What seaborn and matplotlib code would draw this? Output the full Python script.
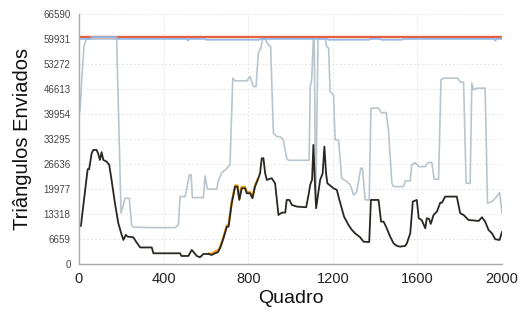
import numpy as np
import pandas as pd
import matplotlib
matplotlib.use("Agg")
import matplotlib.pyplot as plt
import seaborn as sns

# ---- data ----
black_frames = [0, 9, 41, 48, 60, 68, 83, 90, 99, 107, 115, 131, 143, 154, 170, 186, 202, 210,
                221, 230, 257, 270, 289, 344, 352, 478, 484, 517, 533, 540, 557, 572, 588, 612,
                627, 643, 656, 667, 683, 699, 707, 722, 738, 749, 758, 769, 785, 793, 809, 820,
                832, 845, 856, 864, 872, 880, 888, 911, 927, 943, 959, 975, 982, 995, 1006, 1030,
                1074, 1085, 1093, 1102, 1108, 1115, 1121, 1140, 1152, 1160, 1168, 1174, 1203,
                1219, 1231, 1253, 1274, 1290, 1305, 1329, 1345, 1364, 1372, 1380, 1416, 1428,
                1440, 1455, 1471, 1487, 1503, 1518, 1542, 1550, 1566, 1578, 1597, 1606, 1620,
                1637, 1644, 1655, 1663, 1676, 1692, 1708, 1716, 1731, 1786, 1802, 1818, 1841,
                1889, 1905, 1920, 1936, 1952, 1968, 1988, 2000]
black_vals = [10120, 10120, 25230, 25230, 29490, 30370, 30370, 29490, 27700, 29750, 27700, 27250,
              26370, 22380, 16170, 10840, 7730, 6390, 7730, 7280, 7100, 5940, 4400, 4400, 2840,
              2840, 2130, 2130, 3730, 3300, 2130, 1780, 2660, 2660, 2400, 2840, 3100, 4200, 6840,
              9940, 9940, 16170, 20600, 20600, 17050, 20160, 20160, 18830, 18830, 17500, 20600,
              22380, 24160, 28150, 28150, 24160, 22380, 22830, 21490, 13050, 13670, 13670, 17050,
              17050, 15720, 15270, 15100, 18380, 21050, 22500, 31700, 22000, 14830, 22380, 24160,
              31250, 24160, 21490, 20160, 19710, 17050, 12600, 10390, 9060, 8170, 7110, 5940,
              5860, 5860, 17050, 17050, 11270, 11270, 9500, 7280, 5500, 4800, 4620, 4800, 5500,
              8170, 16610, 17050, 12170, 11720, 9500, 12170, 12000, 10660, 13050, 13940, 16340,
              16340, 17940, 17940, 13500, 13050, 11720, 11450, 12440, 11270, 9060, 8170, 6570,
              6390, 8610]

gray_frames = [0, 5, 14, 24, 35, 178, 199, 218, 238, 249, 257, 345, 454, 470, 478, 502, 522, 530,
               536, 588, 596, 607, 651, 659, 675, 691, 714, 727, 738, 793, 809, 824, 837, 848,
               859, 868, 880, 895, 906, 919, 935, 951, 966, 982, 990, 1088, 1093, 1100, 1108,
               1112, 1119, 1130, 1164, 1171, 1180, 1187, 1203, 1211, 1227, 1242, 1266, 1282,
               1298, 1313, 1332, 1340, 1353, 1372, 1380, 1416, 1428, 1452, 1463, 1479, 1487,
               1534, 1542, 1566, 1573, 1589, 1605, 1637, 1649, 1668, 1679, 1700, 1711, 1723,
               1790, 1802, 1818, 1830, 1849, 1857, 1865, 1881, 1920, 1931, 1952, 1968, 1988, 2000]
gray_vals = [39880, 41000, 50000, 58000, 59900, 59900, 13500, 17500, 17500, 10390, 9800, 9680,
             9680, 10390, 17940, 17940, 23710, 23710, 17670, 17670, 23440, 19900, 19900, 22200,
             24320, 25040, 26370, 49470, 48750, 48750, 49900, 47230, 47230, 56130, 57460, 59900,
             59900, 58340, 57900, 34820, 33910, 33910, 33030, 28150, 27600, 27600, 47230, 49000,
             59900, 59900, 15700, 59900, 59900, 57900, 57460, 45900, 45000, 33030, 33030, 22830,
             21930, 21050, 18380, 19260, 25490, 25490, 17050, 17050, 41480, 41480, 40300, 40300,
             35700, 21490, 20600, 20600, 22110, 22110, 26370, 27000, 25920, 25920, 27000, 27000,
             22560, 22560, 49020, 49470, 49470, 48400, 48400, 21490, 21490, 48130, 46350, 46800,
             46800, 16170, 16610, 17500, 19000, 13500]

orange_frames = [612, 627, 643, 656, 667, 683, 699, 707, 722, 738, 749, 758, 769, 785, 793, 809,
                 820, 832, 845]
orange_vals = [2800, 2700, 3300, 3600, 4500, 7200, 10300, 10300, 16500, 20900, 20900, 17400,
               20500, 20500, 19200, 19100, 17800, 20900, 22600]

red_frames = [0, 2000]
red_vals = [60400, 60400]

blue_frames = [0, 55, 60, 178, 182, 510, 516, 522, 596, 602, 852, 858, 1173, 1179, 1370, 1376,
               1424, 1430, 1527, 1533, 1962, 1968, 1974, 2000]
blue_vals = [59931, 59931, 60400, 60400, 59931, 59931, 59500, 59931, 59931, 59700, 59700, 59931,
             59931, 59700, 59700, 59931, 59931, 59700, 59700, 59931, 59931, 59500, 59931, 59931]

y_ticks = [0, 6659, 13318, 19977, 26636, 33295, 39954, 46613, 53272, 59931, 66590]
x_ticks = [0, 400, 800, 1200, 1600, 2000]

# ---- style ----
sns.set_style("white")
plt.rcParams["font.family"] = ["Liberation Sans", "DejaVu Sans"]

fig = plt.figure(figsize=(5.23, 3.15), dpi=100)
ax = fig.add_axes([0.151, 0.162, 0.809, 0.794])

line_kw = dict(ax=ax, estimator=None, sort=False, legend=False)
sns.lineplot(x=gray_frames, y=gray_vals, color="#b9c5cd", linewidth=1.2, **line_kw)
sns.lineplot(x=red_frames, y=red_vals, color="#e5603f", linewidth=1.7, **line_kw)
sns.lineplot(x=blue_frames, y=blue_vals, color="#94b6e8", linewidth=1.3, **line_kw)
sns.lineplot(x=orange_frames, y=orange_vals, color="#f5a623", linewidth=1.7, **line_kw)
sns.lineplot(x=black_frames, y=black_vals, color="#2a2722", linewidth=1.3, **line_kw)

ax.set_xlim(0, 2000)
ax.set_ylim(0, 66590)
ax.set_xticks(x_ticks)
ax.set_yticks(y_ticks)
ax.set_xticklabels([str(v) for v in x_ticks], fontsize=10.5, color="#222222")
ax.set_yticklabels([str(v) for v in y_ticks], fontsize=7, color="#444444")

ax.grid(True, color="#e6e6e6", linestyle=(0, (2, 2)), linewidth=0.7)
ax.set_axisbelow(True)
for side in ["top", "right"]:
    ax.spines[side].set_visible(False)
for side in ["left", "bottom"]:
    ax.spines[side].set_color("#aaaaaa")
    ax.spines[side].set_linewidth(1.0)
ax.tick_params(axis="both", direction="out", length=4, width=0.8, color="#aaaaaa", pad=2)

ax.set_xlabel("Quadro", fontsize=14, color="#111111", labelpad=3)
ax.set_ylabel("Triângulos Enviados", fontsize=14.5, color="#111111", labelpad=8)

fig.savefig("out.png", dpi=100)
